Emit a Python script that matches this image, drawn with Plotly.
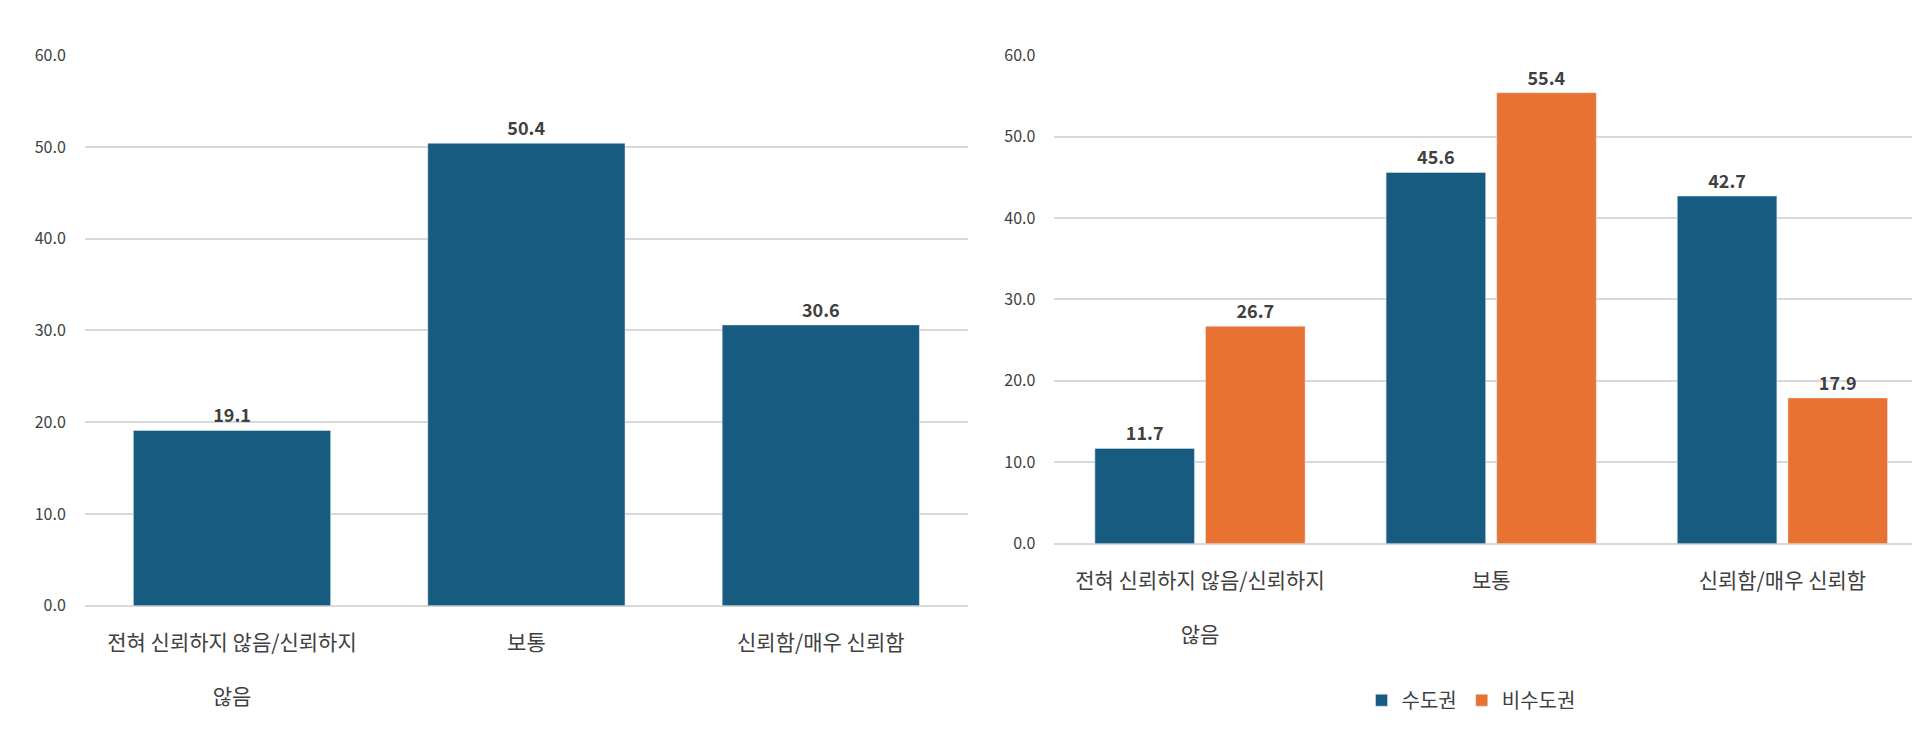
import plotly.graph_objects as go

categories = ["전혀 신뢰하지 않음/신뢰하지<br>  <br>않음", "보통", "신뢰함/매우 신뢰함"]
total_values = [19.1, 50.4, 30.6]
capital_values = [11.7, 45.6, 42.7]
noncapital_values = [26.7, 55.4, 17.9]
series_names = ["수도권", "비수도권"]

BLUE = "#175c80"
ORANGE = "#e87232"
FONT = "Noto Sans CJK KR"


def labels(values):
    return [f"<b>{v:.1f}</b>" for v in values]


fig = go.Figure()
fig.add_trace(go.Bar(x=categories, y=total_values, marker_color=BLUE, width=0.67,
                     text=labels(total_values), textposition="outside",
                     cliponaxis=False, showlegend=False, xaxis="x", yaxis="y"))
fig.add_trace(go.Bar(x=categories, y=capital_values, name=series_names[0], marker_color=BLUE,
                     text=labels(capital_values), textposition="outside",
                     cliponaxis=False, xaxis="x2", yaxis="y2"))
fig.add_trace(go.Bar(x=categories, y=noncapital_values, name=series_names[1], marker_color=ORANGE,
                     text=labels(noncapital_values), textposition="outside",
                     cliponaxis=False, xaxis="x2", yaxis="y2"))

fig.update_traces(textfont=dict(size=18, color="#404040", family=FONT), textangle=0)

yax = dict(range=[0, 60], dtick=10, tickformat=".1f", showgrid=True, gridcolor="#d9d9d9",
           gridwidth=1.5, zeroline=True, zerolinecolor="#d9d9d9", zerolinewidth=1.5,
           tickfont=dict(size=16, color="#404040"), ticks="", ticklabelstandoff=18)
xax = dict(tickfont=dict(size=21, color="#404040"), showline=False, ticks="", ticklabelstandoff=22)

fig.update_layout(
    width=1920, height=737, paper_bgcolor="white", plot_bgcolor="white",
    margin=dict(l=0, r=0, t=0, b=0), font=dict(family=FONT, color="#404040"),
    barmode="group", bargap=0.24, bargroupgap=0.1,
    xaxis=dict(domain=[0.040, 0.5], anchor="y", **xax),
    yaxis=dict(domain=[0.180, 0.952], anchor="x", **yax),
    xaxis2=dict(domain=[0.545, 1.0], anchor="y2", **xax),
    yaxis2=dict(domain=[0.267, 0.952], anchor="x2", **yax),
    legend=dict(orientation="h", x=0.762, xanchor="center", y=0.02, yanchor="bottom",
                font=dict(size=20, color="#404040")),
)

fig.write_html("out.html")
